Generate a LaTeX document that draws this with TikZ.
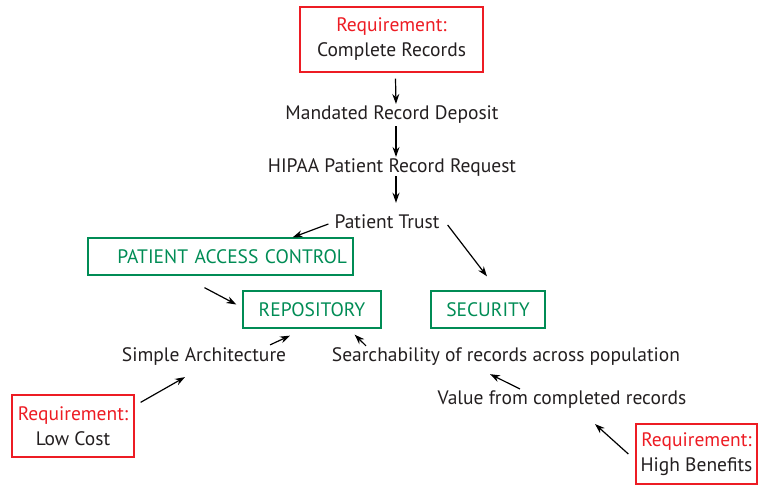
\documentclass[tikz,border=0pt]{standalone}
\usepackage{fontspec}
\setmainfont{PT Sans}
\usetikzlibrary{arrows.meta, positioning}
\definecolor{reqred}{RGB}{237,28,36}
\definecolor{compgreen}{RGB}{0,140,85}
\definecolor{inkgray}{RGB}{35,31,32}

\begin{document}
\begin{tikzpicture}[
    x=1pt, y=-1pt,
    font=\fontsize{19.5}{25}\selectfont, text=inkgray,
    reqbox/.style={rectangle, draw=reqred, line width=1.3pt, align=center, inner sep=0pt},
    compbox/.style={rectangle, draw=compgreen, line width=1.3pt, text=compgreen, minimum height=37pt, inner sep=0pt},
    textnode/.style={inner sep=2pt},
    arr/.style={-{Stealth[length=10pt, width=7pt]}, line width=1.2pt, draw=black}
]
\useasboundingbox (0,0) rectangle (760,485);

\node[reqbox, minimum width=183pt, minimum height=65pt] (reqrec) at (391.5,39.5) {{\color{reqred}Requirement:}\\Complete Records};
\node[textnode] (deposit) at (392,115) {Mandated Record Deposit};
\node[textnode] (hipaa) at (392,168) {HIPAA Patient Record Request};
\node[textnode] (trust) at (387,222) {Patient Trust};
\node[compbox, minimum width=265pt, text width=253pt, align=right] (access) at (220.5,256.5) {PATIENT ACCESS CONTROL};
\node[compbox, minimum width=138pt] (repo) at (312,309.5) {REPOSITORY};
\node[compbox, minimum width=114pt] (security) at (488,309.5) {SECURITY};
\node[textnode] (simple) at (204,357) {Simple Architecture};
\node[textnode] (search) at (506,357) {Searchability of records across population};
\node[textnode] (value) at (562,400) {Value from completed records};
\node[reqbox, minimum width=122pt, minimum height=62pt] (reqcost) at (73,426) {{\color{reqred}Requirement:}\\Low Cost};
\node[reqbox, minimum width=121pt, minimum height=60pt] (reqbenefit) at (696.5,454) {{\color{reqred}Requirement:}\\High Benefits};

% main chain
\draw[arr] ([xshift=4pt,yshift=-6pt]reqrec.south) -- ([xshift=4pt]deposit.north);
\draw[arr] ([xshift=4pt]deposit.south) -- ([xshift=4pt]hipaa.north);
\draw[arr] ([xshift=4pt,yshift=3pt]hipaa.south) -- ([xshift=9pt,yshift=10pt]trust.north);

% trust to components
\draw[arr] ([xshift=-4pt,yshift=-2pt]trust.west) -- ([xshift=-61pt]access.north east);
\draw[arr] ([shift={(6pt,-3pt)}]trust.east) -- ([shift={(-1pt,14pt)}]security.north);
\draw[arr] ([shift={(-16pt,-12pt)}]access.south) -- ([shift={(-6pt,5pt)}]repo.west);

% into the repository
\draw[arr] ([shift={(66pt,1pt)}]simple.north) -- ([shift={(-22pt,-7pt)}]repo.south);
\draw[arr] ([xshift=-140pt]search.north) -- ([shift={(-27pt,-6pt)}]repo.south east);
\draw[arr] ([xshift=-42pt]value.north) -- ([shift={(-16pt,-6pt)}]search.south);

% requirements
\draw[arr] ([shift={(6pt,-8pt)}]reqcost.north east) -- ([shift={(-19pt,-9pt)}]simple.south);
\draw[arr] ([xshift=-7pt]reqbenefit.west) -- ([shift={(33pt,-13pt)}]value.south);
\end{tikzpicture}
\end{document}
